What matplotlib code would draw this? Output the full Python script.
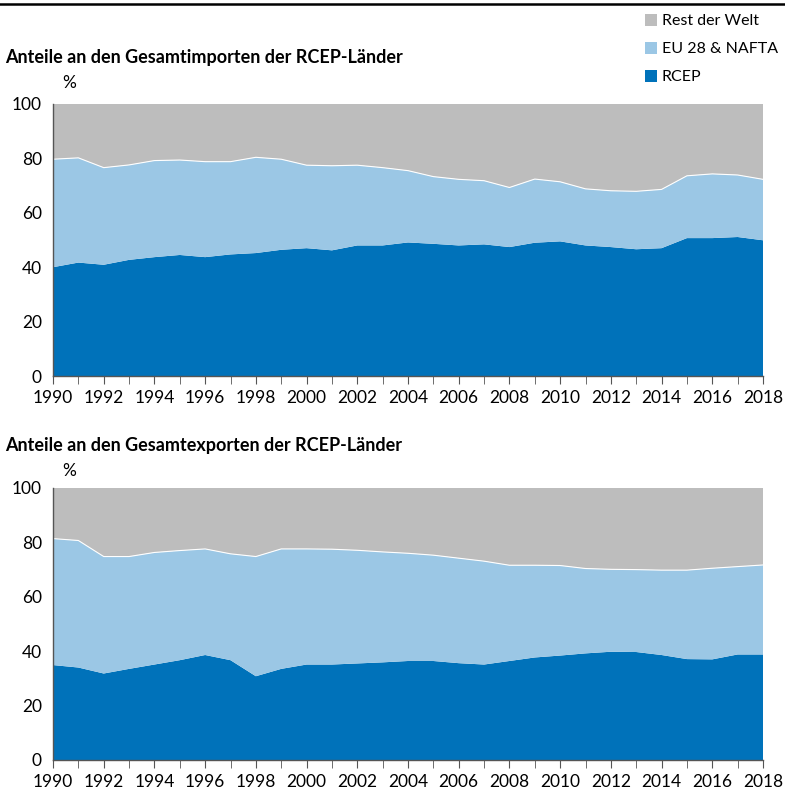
import numpy as np
import matplotlib.pyplot as plt

years = np.arange(1990, 2019)

# Importe: Anteile in %
imp_rcep = [40.0, 41.7, 40.9, 42.7, 43.7, 44.5, 43.7, 44.7, 45.2, 46.4, 47.0, 46.2, 48.0, 48.0,
            49.1, 48.6, 48.0, 48.4, 47.4, 49.0, 49.5, 48.0, 47.4, 46.6, 47.0, 50.7, 50.7, 51.1, 49.9]
imp_eu_nafta = [39.7, 38.5, 35.7, 34.9, 35.5, 34.9, 35.1, 34.1, 35.2, 33.3, 30.5, 31.1, 29.5, 28.6,
                26.4, 24.7, 24.3, 23.4, 21.9, 23.4, 21.9, 20.8, 20.7, 21.3, 21.6, 22.9, 23.6, 22.8, 22.4]
imp_rest = [20.3, 19.8, 23.4, 22.4, 20.8, 20.6, 21.2, 21.2, 19.6, 20.3, 22.5, 22.7, 22.5, 23.4,
            24.5, 26.7, 27.7, 28.2, 30.7, 27.6, 28.6, 31.2, 31.9, 32.1, 31.4, 26.4, 25.7, 26.1, 27.7]

# Exporte: Anteile in %
exp_rcep = [34.9, 34.0, 31.8, 33.5, 35.1, 36.7, 38.6, 36.7, 30.8, 33.5, 35.1, 35.1, 35.5, 35.9,
            36.4, 36.4, 35.6, 35.1, 36.4, 37.7, 38.4, 39.2, 39.8, 39.7, 38.6, 37.1, 37.0, 38.8, 38.8]
exp_eu_nafta = [46.5, 46.7, 43.0, 41.3, 41.2, 40.3, 39.0, 39.1, 44.0, 44.1, 42.5, 42.4, 41.6, 40.6,
                39.6, 38.9, 38.6, 38.0, 35.2, 33.9, 33.1, 31.2, 30.3, 30.3, 31.2, 32.7, 33.5, 32.3, 32.9]
exp_rest = [18.6, 19.3, 25.2, 25.2, 23.7, 23.0, 22.4, 24.2, 25.2, 22.4, 22.4, 22.5, 22.9, 23.5,
            24.0, 24.7, 25.8, 26.9, 28.4, 28.4, 28.5, 29.6, 29.9, 30.0, 30.2, 30.2, 29.5, 28.9, 28.3]

labels = ['RCEP', 'EU 28 & NAFTA', 'Rest der Welt']
colors = ['#0072ba', '#9bc7e5', '#bdbdbd']

plt.rcParams['font.family'] = ['Lato', 'DejaVu Sans']

W, H = 785, 793
fig = plt.figure(figsize=(W / 100, H / 100), dpi=100)

# (title, data, axes top px, axes bottom px, title y px, % y px)
panels = [
    ('Anteile an den Gesamtimporten der RCEP-Länder', [imp_rcep, imp_eu_nafta, imp_rest], 104, 376, 58, 83),
    ('Anteile an den Gesamtexporten der RCEP-Länder', [exp_rcep, exp_eu_nafta, exp_rest], 488, 760, 446, 471),
]

for title, series, ytop, ybot, ty, py in panels:
    ax = fig.add_axes([53 / W, 1 - ybot / H, 710 / W, (ybot - ytop) / H])
    polys = ax.stackplot(years, *series, colors=colors, labels=labels, linewidth=0)
    # thin white line between the layers
    top = np.array(series[0]) + np.array(series[1])
    ax.plot(years, top, color='white', lw=0.8)
    ax.set_xlim(1990, 2018)
    ax.set_ylim(0, 100)
    ax.set_yticks(range(0, 101, 20))
    ax.set_xticks(years, minor=True)
    ax.set_xticks(range(1990, 2019, 2))
    ax.tick_params(axis='x', which='both', length=6, color='#555555', labelsize=12.5, pad=4)
    ax.tick_params(axis='y', length=0, labelsize=12.5, pad=8)
    for s in ['top', 'right']:
        ax.spines[s].set_visible(False)
    for s in ['left', 'bottom']:
        ax.spines[s].set_color('#555555')
        ax.spines[s].set_linewidth(1.0)
    fig.text(5 / W, 1 - ty / H, title, fontsize=13, fontweight='bold', va='center', ha='left')
    fig.text(62 / W, 1 - py / H, '%', fontsize=12.5, va='center', ha='left')

# legend at the top right
handles = list(reversed(polys))
fig.legend(handles, list(reversed(labels)), loc='upper left', bbox_to_anchor=(645 / W, 1 - 14 / H),
           frameon=False, fontsize=11.5, handlelength=0.75, handleheight=0.75,
           handletextpad=0.3, labelspacing=0.85, borderaxespad=0, borderpad=0)

# black rule at the top
fig.add_artist(plt.Line2D([0, 1], [1 - 4 / H, 1 - 4 / H], color='black', lw=1.8, transform=fig.transFigure))

fig.savefig('out.png', dpi=100)
